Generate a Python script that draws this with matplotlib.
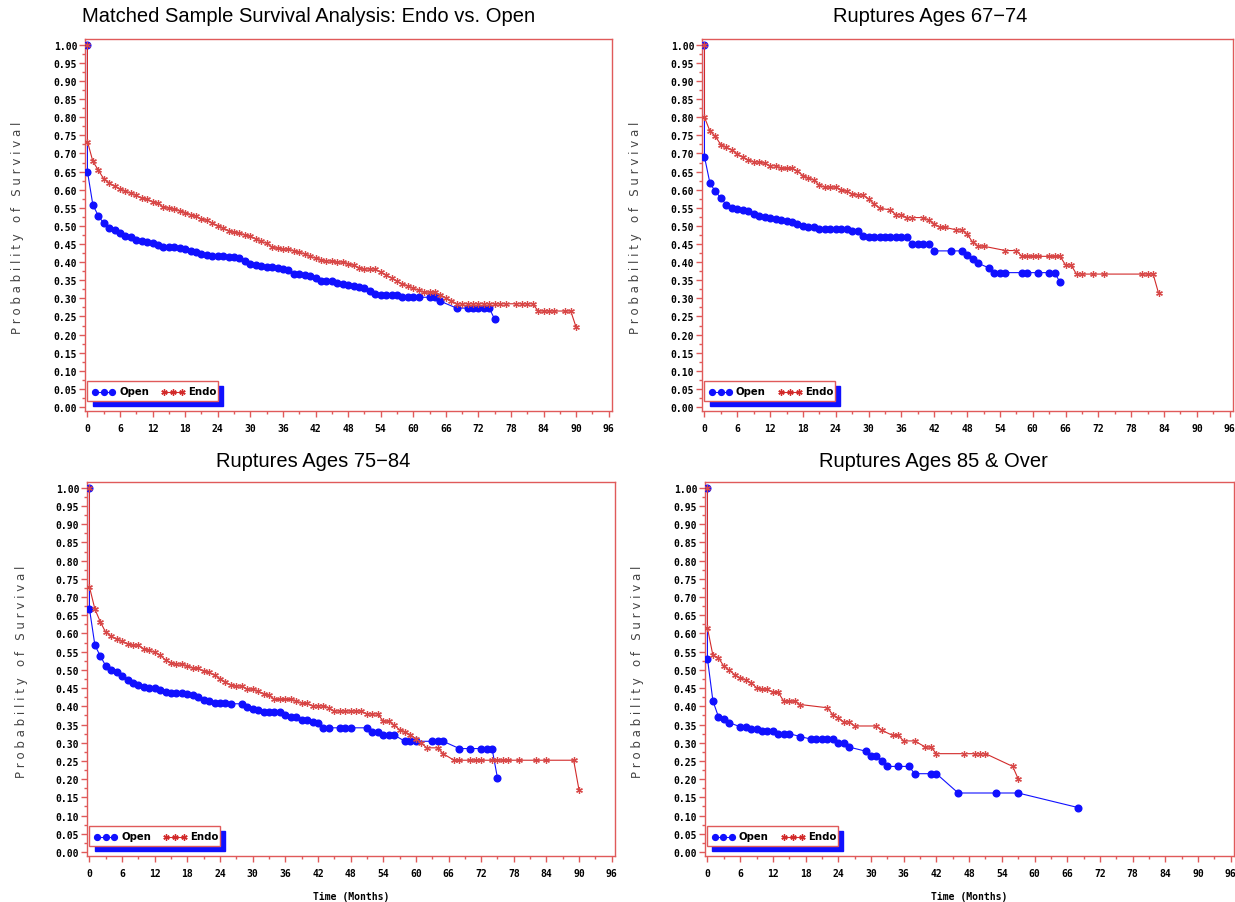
import numpy as np
import matplotlib.pyplot as plt
from matplotlib.patches import Rectangle
from matplotlib.ticker import MultipleLocator, FormatStrFormatter

W, H = 1235, 903
BLUE = '#1010ff'
RED = '#d22a2a'
FRAME = '#e05a5a'

# Matched sample (top left)
tlOpenT = [0, 0, 1, 2, 3, 4, 5, 6, 7, 8, 9, 10,
           11, 12, 13, 14, 15, 16, 17, 18, 19, 20,
           21, 22, 23, 24, 25, 26, 27, 28, 29, 30,
           31, 32, 33, 34, 35, 36, 37, 38, 39, 40,
           41, 42, 43, 44, 45, 46, 47, 48, 49, 50,
           51, 52, 53, 54, 55, 56, 57, 58, 59, 60,
           61, 63, 64, 65, 68, 70, 71, 72, 73, 74, 75]
tlOpenS = [1.00, 0.650, 0.558, 0.528, 0.507, 0.494, 0.488, 0.480, 0.472, 0.468, 0.462, 0.457,
           0.455, 0.452, 0.448, 0.443, 0.442, 0.441, 0.438, 0.435, 0.430, 0.428,
           0.423, 0.421, 0.418, 0.418, 0.416, 0.414, 0.413, 0.412, 0.402, 0.395,
           0.391, 0.388, 0.386, 0.386, 0.385, 0.380, 0.377, 0.368, 0.367, 0.365,
           0.363, 0.356, 0.349, 0.348, 0.347, 0.342, 0.340, 0.337, 0.334, 0.330,
           0.329, 0.319, 0.312, 0.310, 0.310, 0.310, 0.310, 0.303, 0.303, 0.303,
           0.303, 0.303, 0.303, 0.292, 0.273, 0.273, 0.273, 0.273, 0.273, 0.273, 0.242]
tlEndoT = [0, 0, 1, 2, 3, 4, 5, 6, 7, 8, 9, 10,
           11, 12, 13, 14, 15, 16, 17, 18, 19, 20,
           21, 22, 23, 24, 25, 26, 27, 28, 29, 30,
           31, 32, 33, 34, 35, 36, 37, 38, 39, 40,
           41, 42, 43, 44, 45, 46, 47, 48, 49, 50,
           51, 52, 53, 54, 55, 56, 57, 58, 59, 60,
           61, 62, 63, 64, 65, 66, 67, 68,
           69, 70, 71, 72, 73, 74, 75, 76, 77,
           79, 80, 81, 82, 83, 84, 85, 86, 88, 89, 90]
tlEndoS = [1.00, 0.733, 0.678, 0.654, 0.630, 0.619, 0.609, 0.602, 0.596, 0.590, 0.584, 0.576,
           0.574, 0.567, 0.563, 0.551, 0.549, 0.547, 0.542, 0.537, 0.531, 0.527,
           0.519, 0.515, 0.508, 0.501, 0.494, 0.487, 0.483, 0.480, 0.475, 0.472,
           0.464, 0.457, 0.452, 0.441, 0.438, 0.437, 0.435, 0.432, 0.427, 0.423,
           0.416, 0.411, 0.407, 0.404, 0.402, 0.400, 0.400, 0.396, 0.391, 0.385,
           0.381, 0.381, 0.381, 0.372, 0.365, 0.356, 0.347, 0.340, 0.334, 0.328,
           0.322, 0.317, 0.317, 0.317, 0.310, 0.301, 0.294, 0.285,
           0.285, 0.285, 0.285, 0.285, 0.285, 0.285, 0.285, 0.285, 0.285,
           0.285, 0.285, 0.285, 0.285, 0.265, 0.265, 0.265, 0.265, 0.265, 0.265, 0.220]

# Ages 67-74 (top right)
trOpenT = [0, 0, 1, 2, 3, 4, 5, 6, 7, 8, 9, 10,
           11, 12, 13, 14, 15, 16, 17, 18, 19, 20,
           21, 22, 23, 24, 25, 26, 27, 28, 29, 30, 31,
           32, 33, 34, 35, 36, 37, 38, 39, 40, 41,
           42, 45, 47, 48, 49, 50, 52, 53, 54, 55, 58, 59, 61, 63, 64, 65]
trOpenS = [1.00, 0.691, 0.618, 0.595, 0.577, 0.558, 0.550, 0.546, 0.543, 0.540, 0.533, 0.528,
           0.525, 0.521, 0.518, 0.515, 0.514, 0.510, 0.506, 0.500, 0.496, 0.496,
           0.492, 0.492, 0.492, 0.492, 0.492, 0.492, 0.487, 0.487, 0.473, 0.468, 0.468,
           0.468, 0.468, 0.468, 0.468, 0.468, 0.468, 0.450, 0.450, 0.450, 0.450,
           0.431, 0.431, 0.431, 0.420, 0.409, 0.397, 0.384, 0.371, 0.371, 0.371, 0.371, 0.371, 0.371,
           0.371, 0.371, 0.344]
trEndoT = [0, 0, 1, 2, 3, 4, 5, 6, 7, 8, 9, 10,
           11, 12, 13, 14, 15, 16, 17, 18, 19, 20,
           21, 22, 23, 24, 25, 26, 27, 28, 29, 30, 31, 32,
           34, 35, 36, 37, 38, 40, 41, 42, 43, 44, 46, 47, 48, 49, 50, 51,
           55, 57, 58, 59, 60, 61, 63, 64, 65, 66, 67, 68, 69, 71, 73, 80, 81, 82, 83]
trEndoS = [1.00, 0.800, 0.762, 0.747, 0.724, 0.717, 0.710, 0.699, 0.689, 0.682, 0.677, 0.676,
           0.673, 0.666, 0.666, 0.659, 0.659, 0.659, 0.652, 0.639, 0.632, 0.627,
           0.612, 0.607, 0.607, 0.607, 0.600, 0.595, 0.588, 0.586, 0.585, 0.574, 0.561, 0.549,
           0.544, 0.531, 0.531, 0.523, 0.523, 0.523, 0.515, 0.506, 0.496, 0.496, 0.489, 0.489,
           0.478, 0.455, 0.444, 0.444,
           0.432, 0.432, 0.416, 0.416, 0.416, 0.416, 0.416, 0.416, 0.416, 0.392, 0.392,
           0.367, 0.367, 0.367, 0.367, 0.367, 0.367, 0.367, 0.314]

# Ages 75-84 (bottom left)
blOpenT = [0, 0, 1, 2, 3, 4, 5, 6, 7, 8, 9, 10,
           11, 12, 13, 14, 15, 16, 17, 18, 19, 20,
           21, 22, 23, 24, 25, 26, 28, 29, 30,
           31, 32, 33, 34, 35, 36, 37, 38, 39, 40,
           41, 42, 43, 44, 46, 47, 48, 51, 52, 53, 54, 55, 56,
           58, 59, 60, 63, 64, 65, 68, 70, 72, 73, 74, 75]
blOpenS = [1.00, 0.668, 0.568, 0.538, 0.511, 0.499, 0.494, 0.482, 0.472, 0.464, 0.458, 0.453,
           0.451, 0.449, 0.446, 0.438, 0.437, 0.437, 0.437, 0.433, 0.430, 0.426,
           0.417, 0.414, 0.410, 0.410, 0.410, 0.407, 0.407, 0.399, 0.394,
           0.389, 0.385, 0.385, 0.385, 0.385, 0.375, 0.370, 0.370, 0.363, 0.362,
           0.357, 0.355, 0.341, 0.341, 0.341, 0.341, 0.341, 0.341, 0.330, 0.330, 0.321, 0.321, 0.321,
           0.304, 0.304, 0.304, 0.304, 0.304, 0.304, 0.284, 0.284, 0.284, 0.284, 0.284, 0.203]
blEndoT = [0, 0, 1, 2, 3, 4, 5, 6, 7, 8, 9, 10,
           11, 12, 13, 14, 15, 16, 17, 18, 19, 20,
           21, 22, 23, 24, 25, 26, 27, 28, 29, 30,
           31, 32, 33, 34, 35, 36, 37, 38, 39, 40,
           41, 42, 43, 44, 45, 46, 47, 48, 49, 50,
           51, 52, 53, 54, 55, 56, 57, 58, 59, 60,
           61, 62, 64, 65, 67, 68, 70, 71, 72, 74, 75, 76, 77, 79, 82, 84, 89, 90]
blEndoS = [1.00, 0.728, 0.667, 0.632, 0.603, 0.593, 0.584, 0.579, 0.572, 0.568, 0.568, 0.557,
           0.554, 0.548, 0.540, 0.527, 0.520, 0.517, 0.515, 0.511, 0.505, 0.504,
           0.496, 0.493, 0.485, 0.476, 0.467, 0.458, 0.456, 0.455, 0.447, 0.447,
           0.441, 0.435, 0.430, 0.419, 0.419, 0.419, 0.419, 0.415, 0.408, 0.408,
           0.401, 0.401, 0.401, 0.396, 0.387, 0.387, 0.387, 0.387, 0.387, 0.387,
           0.379, 0.379, 0.379, 0.359, 0.359, 0.348, 0.336, 0.330, 0.322, 0.311,
           0.299, 0.286, 0.286, 0.270, 0.252, 0.252, 0.252, 0.252, 0.252, 0.252, 0.252, 0.252,
           0.252, 0.252, 0.252, 0.252, 0.252, 0.169]

# Ages 85 & over (bottom right)
brOpenT = [0, 0, 1, 2, 3, 4, 6, 7, 8, 9, 10, 11, 12, 13, 14, 15,
           17, 19, 20, 21, 22, 23, 24, 25, 26, 29, 30, 31, 32, 33,
           35, 37, 38, 41, 42, 46, 53, 57, 68]
brOpenS = [1.00, 0.531, 0.415, 0.372, 0.366, 0.355, 0.344, 0.344, 0.339, 0.339, 0.332, 0.332,
           0.332, 0.325, 0.325, 0.325,
           0.317, 0.310, 0.310, 0.310, 0.310, 0.310, 0.299, 0.299, 0.288, 0.277, 0.264, 0.264,
           0.250, 0.235,
           0.235, 0.235, 0.215, 0.215, 0.215, 0.162, 0.162, 0.162, 0.122]
brEndoT = [0, 0, 1, 2, 3, 4, 5, 6, 7, 8, 9, 10, 11, 12, 13, 14, 15, 16, 17,
           22, 23, 24, 25, 26, 27, 31, 32, 34, 35, 36, 38,
           40, 41, 42, 47, 49, 50, 51, 56, 57]
brEndoS = [1.00, 0.615, 0.540, 0.534, 0.510, 0.499, 0.487, 0.478, 0.473, 0.465, 0.451, 0.447,
           0.447, 0.438, 0.438, 0.414, 0.414, 0.414, 0.405,
           0.396, 0.377, 0.368, 0.357, 0.357, 0.346, 0.346, 0.334, 0.320, 0.320, 0.305, 0.305,
           0.288, 0.288, 0.270, 0.270, 0.270, 0.270, 0.270, 0.235, 0.201]

fig = plt.figure(figsize=(W / 100, H / 100), dpi=100)


def drawPanel(box, openT, openS, endoT, endoS, showXlabel):
    left, top, right, bottom = box
    axW, axH = right - left, bottom - top
    ax = fig.add_axes([left / W, 1 - bottom / H, axW / W, axH / H])

    ax.plot(openT, openS, color=BLUE, lw=0.8, marker='o', ms=4.8,
            mfc=BLUE, mec=BLUE, zorder=3)
    ax.plot(endoT, endoS, color=RED, lw=0.8, marker=(6, 2, 0), ms=4.8,
            mew=0.9, mec='#d84848', zorder=4)

    ax.set_xlim(-0.45, 96.6)
    ax.set_ylim(-0.011, 1.016)
    ax.xaxis.set_major_locator(MultipleLocator(6))
    ax.xaxis.set_minor_locator(MultipleLocator(3))
    ax.yaxis.set_major_locator(MultipleLocator(0.05))
    ax.yaxis.set_minor_locator(MultipleLocator(0.025))
    ax.yaxis.set_major_formatter(FormatStrFormatter('%.2f'))
    ax.tick_params(which='both', direction='out', color=FRAME, width=1)
    ax.tick_params(which='major', length=4)
    ax.tick_params(which='minor', length=2.5)
    ax.tick_params(axis='x', pad=4.5)
    ax.tick_params(axis='y', pad=1.5)
    for lab in ax.get_xticklabels() + ax.get_yticklabels():
        lab.set_fontfamily('DejaVu Sans Mono')
        lab.set_fontweight('bold')
        lab.set_fontsize(7)
    for sp in ax.spines.values():
        sp.set_color(FRAME)
        sp.set_linewidth(1)

    # legend box with blue shadow, pixel offsets from lower-left of axes
    def fx(px):
        return px / axW

    def fy(py):
        return py / axH

    ax.add_patch(Rectangle((fx(7.5), fy(4.7)), fx(130.5), fy(20.5), facecolor=BLUE,
                           edgecolor=BLUE, transform=ax.transAxes, clip_on=False, zorder=5))
    ax.add_patch(Rectangle((fx(2.4), fy(10.2)), fx(130.5), fy(20.2), facecolor='white',
                           edgecolor=FRAME, lw=1, transform=ax.transAxes, clip_on=False, zorder=6))
    yc = fy(19.5)
    ax.plot([fx(10), fx(18.5), fx(27)], [yc] * 3, color=BLUE, lw=0.8, marker='o', ms=4.2,
            transform=ax.transAxes, clip_on=False, zorder=7)
    ax.text(fx(34), yc, 'Open', transform=ax.transAxes, fontsize=7.3, fontweight='bold',
            fontfamily='DejaVu Sans', va='center', ha='left', zorder=7)
    ax.plot([fx(79), fx(88), fx(97)], [yc] * 3, color=RED, lw=0.8, marker=(6, 2, 0), ms=4.5,
            mew=1.0, transform=ax.transAxes, clip_on=False, zorder=7)
    ax.text(fx(103), yc, 'Endo', transform=ax.transAxes, fontsize=7.3, fontweight='bold',
            fontfamily='DejaVu Sans', va='center', ha='left', zorder=7)

    if showXlabel:
        fig.text((left + right) / 2 / W, 1 - 897 / H, 'Time (Months)', ha='center', va='center',
                 fontsize=7, fontweight='bold', fontfamily='DejaVu Sans Mono')
    return ax


drawPanel((85, 40, 612, 412), tlOpenT, tlOpenS, tlEndoT, tlEndoS, False)
drawPanel((702, 40, 1233, 412), trOpenT, trOpenS, trEndoT, trEndoS, False)
drawPanel((87, 483, 615, 857), blOpenT, blOpenS, blEndoT, blEndoS, True)
drawPanel((705, 483, 1234, 857), brOpenT, brOpenS, brEndoT, brEndoS, True)

titles = ['Matched Sample Survival Analysis: Endo vs. Open', 'Ruptures Ages 67\u221274',
          'Ruptures Ages 75\u221284', 'Ruptures Ages 85 & Over']
titlePos = [(309, 17), (930, 17), (313, 462), (933, 462)]
for t, (x, y) in zip(titles, titlePos):
    fig.text(x / W, 1 - y / H, t, ha='center', va='center', fontsize=14.5,
             fontfamily='Liberation Sans')

ylab = 'P r o b a b i l i t y   o f   S u r v i v a l'
for x, y in [(18, 228), (636, 228), (22, 672), (638, 672)]:
    fig.text(x / W, 1 - y / H, ylab, rotation=90, ha='center', va='center',
             fontsize=8.5, color='#444444', fontfamily='DejaVu Sans')

fig.savefig('out.png', dpi=100)
